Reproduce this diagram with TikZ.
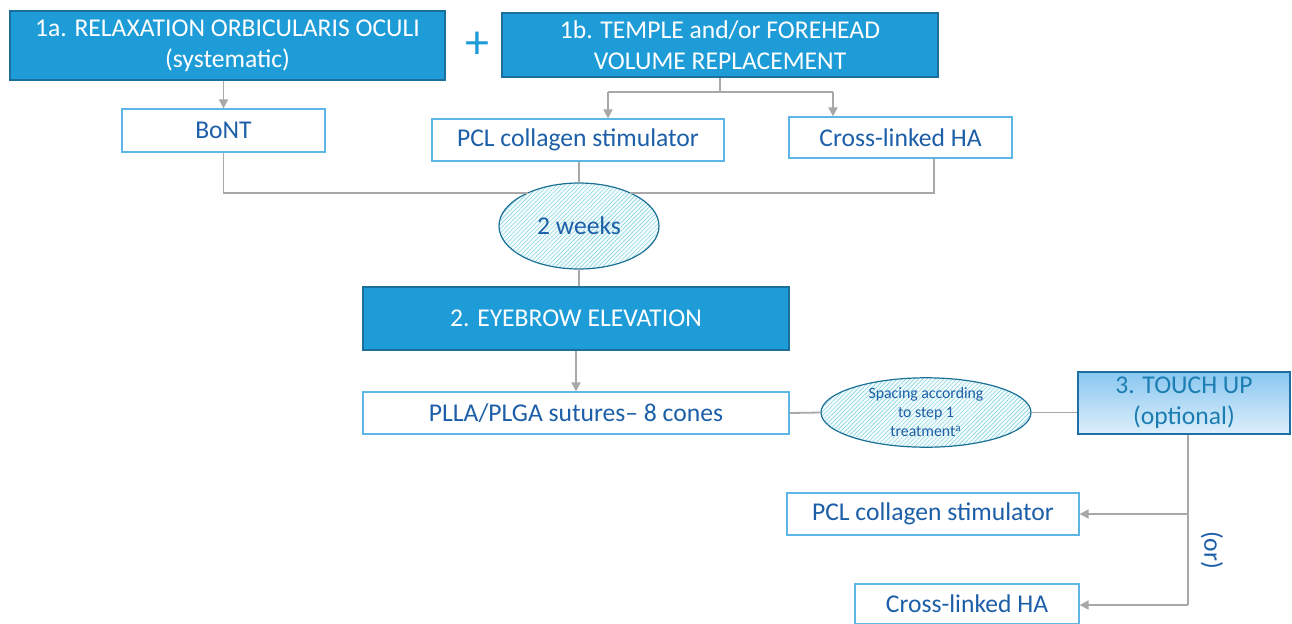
\documentclass[tikz,border=0pt]{standalone}
\usepackage{fontspec}
\setmainfont{Carlito}
\usetikzlibrary{shapes.geometric,arrows.meta,patterns.meta}

\definecolor{stepblue}{HTML}{1E9CD8}
\definecolor{stepedge}{HTML}{1B6F9C}
\definecolor{opttop}{HTML}{8AC7F0}
\definecolor{optbottom}{HTML}{DDEFFB}
\definecolor{optedge}{HTML}{1E6FA8}
\definecolor{txtblue}{HTML}{1C5FA8}
\definecolor{boxedge}{HTML}{5CB7E6}
\definecolor{linkgray}{HTML}{A8A8A8}
\definecolor{hatchcol}{HTML}{8AD6DF}
\definecolor{ovaledge}{HTML}{1B7096}

\tikzset{
  stepbox/.style={draw=stepedge, fill=stepblue, text=white, align=center,
    inner sep=0pt, line width=0.6pt, font=\fontsize{12.8}{15.5}\selectfont},
  drugbox/.style={draw=boxedge, fill=white, text=txtblue, align=center,
    inner sep=0pt, line width=0.6pt, font=\fontsize{12.8}{15.5}\selectfont},
  waitoval/.style={ellipse, draw=ovaledge, line width=0.6pt, inner sep=0pt,
    preaction={fill=cyan!4}, pattern color=hatchcol,
    pattern={Lines[angle=45,distance=1.5pt,line width=0.3pt]},
    text=txtblue, align=center},
  link/.style={draw=linkgray, line width=0.9pt},
  linkarrow/.style={link, -{Triangle[length=4.5pt,width=4.5pt]}},
}

\begin{document}
\begin{tikzpicture}[x=0.5pt, y=-0.5pt]
    \useasboundingbox (0,0) rectangle (1292,623);

    % Step 1 (a + b)
    \node[stepbox, minimum width=217.5pt, minimum height=34.5pt] (step1a) at (227.5,45.5)
        {1a. RELAXATION ORBICULARIS OCULI\\(systematic)};
    \node[text=stepblue, font=\fontsize{24}{24}\selectfont, inner sep=0pt] (plus) at (477,45) {+};
    \node[stepbox, minimum width=218pt, minimum height=32pt] (step1b) at (720,45)
        {1b. TEMPLE and/or FOREHEAD\\VOLUME REPLACEMENT};

    % Products of step 1
    \node[drugbox, minimum width=101.5pt, minimum height=21.5pt] (bont) at (223.5,130.5) {BoNT};
    \node[drugbox, minimum width=146pt, minimum height=21pt] (pcl1) at (578,140) {PCL collagen stimulator};
    \node[drugbox, minimum width=111.5pt, minimum height=20.5pt] (cha1) at (900.5,137.5) {Cross-linked HA};

    % Waiting time
    \node[waitoval, minimum width=80pt, minimum height=43pt, font=\fontsize{12.8}{15.5}\selectfont]
        (wait2) at (579,226) {2 weeks};

    % Step 2
    \node[stepbox, minimum width=213pt, minimum height=31.5pt] (step2) at (576,318.5) {2. EYEBROW ELEVATION};
    \node[drugbox, minimum width=213pt, minimum height=21pt] (plla) at (576,413) {PLLA/PLGA sutures-- 8 cones};
    \node[waitoval, minimum width=105pt, minimum height=31pt, font=\fontsize{7.9}{9.5}\selectfont]
        (wait1) at (926,412.5) {Spacing according\\to step 1\\treatment\textsuperscript{a}};

    % Step 3
    \node[stepbox, draw=optedge, top color=opttop, bottom color=optbottom, text=optedge!90!cyan,
        minimum width=106pt, minimum height=31pt] (step3) at (1184,403) {3. TOUCH UP\\(optional)};
    \node[drugbox, minimum width=146pt, minimum height=21pt] (pcl2) at (933,514) {PCL collagen stimulator};
    \node[drugbox, minimum width=112pt, minimum height=20pt] (cha2) at (967,604) {Cross-linked HA};
    \node[text=txtblue, rotate=-90, font=\fontsize{12.8}{15.5}\selectfont, inner sep=0pt] (orlabel) at (1212,550) {(or)};

    % Branch points
    \coordinate (split1b) at (720,92);
    \coordinate (pclin) at (608,92);
    \coordinate (chain) at (833,92);
    \coordinate (chaout) at (934,158);
    \coordinate (drop3) at (1188,605);

    % Connectors, step 1
    \draw[linkarrow] (bont.north |- step1a.south) -- (bont.north);
    \draw[link] (step1b.south) -- (split1b);
    \draw[link] (pclin) -- (chain);
    \draw[linkarrow] (pclin) -- (pclin |- pcl1.north);
    \draw[linkarrow] (chain) -- (chain |- cha1.north);

    % Connectors into the waiting time
    \draw[link] (bont.south) |- (wait2.147);
    \draw[link] (chaout |- cha1.south) |- (wait2.33);
    \draw[link] (pcl1.south -| wait2.north) -- (wait2.north);
    \draw[link] (wait2.south) -- (wait2.south |- step2.north);

    % Connectors, step 2 and 3
    \draw[linkarrow] (step2.south) -- (plla.north);
    \draw[link] (plla.east) -- (wait1.west);
    \draw[link] (wait1.east) -- (wait1.east -| step3.west);
    \draw[link] (step3.south -| drop3) -- (drop3);
    \draw[linkarrow] (drop3 |- pcl2.east) -- (pcl2.east);
    \draw[linkarrow] (drop3) -- (drop3 -| cha2.east);

\end{tikzpicture}
\end{document}
